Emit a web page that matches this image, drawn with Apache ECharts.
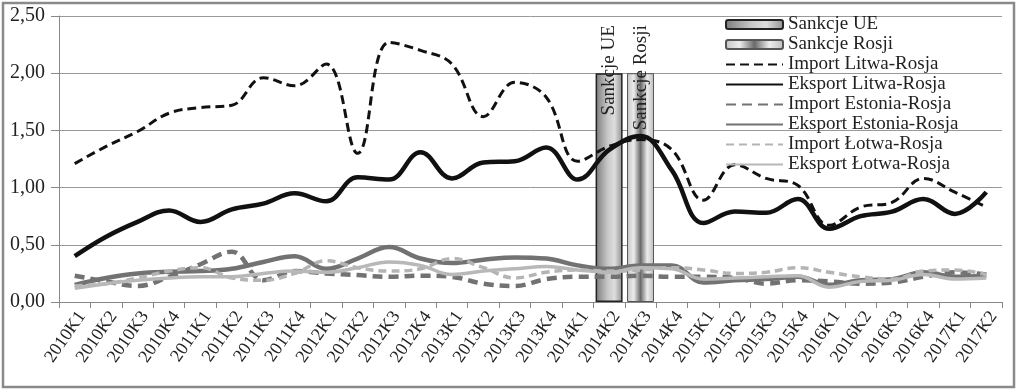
<!DOCTYPE html>
<html>
<head>
<meta charset="utf-8">
<script src="https://cdn.jsdelivr.net/npm/echarts@6/dist/echarts.min.js"></script>
<style>html,body{margin:0;padding:0;background:#fff}#c{width:1024px;height:391px}</style>
</head>
<body>
<div id="c"></div>
<script>
const categories = ['2010K1','2010K2','2010K3','2010K4','2011K1','2011K2','2011K3','2011K4','2012K1','2012K2','2012K3','2012K4','2013K1','2013K2','2013K3','2013K4','2014K1','2014K2','2014K3','2014K4','2015K1','2015K2','2015K3','2015K4','2016K1','2016K2','2016K3','2016K4','2017K1','2017K2'];
const yTicks = [0, 0.5, 1, 1.5, 2, 2.5];
const sankcjeUE =    [null,null,null,null,null,null,null,null,null,null,null,null,null,null,null,null,null,2.0,null,null,null,null,null,null,null,null,null,null,null,null];
const sankcjeRosji = [null,null,null,null,null,null,null,null,null,null,null,null,null,null,null,null,null,null,2.0,null,null,null,null,null,null,null,null,null,null,null];
const importLitwa =  [1.21,1.36,1.49,1.65,1.70,1.72,1.96,1.89,2.08,1.30,2.27,2.20,2.08,1.62,1.92,1.79,1.23,1.36,1.42,1.33,0.89,1.20,1.08,1.02,0.67,0.83,0.87,1.08,0.96,0.83];
const eksportLitwa = [0.40,0.57,0.70,0.80,0.70,0.81,0.86,0.95,0.88,1.09,1.07,1.31,1.08,1.22,1.23,1.35,1.07,1.33,1.45,1.15,0.69,0.79,0.78,0.90,0.64,0.75,0.79,0.90,0.77,0.96];
const importEstonia = [0.23,0.18,0.14,0.22,0.33,0.44,0.19,0.27,0.25,0.235,0.22,0.23,0.22,0.16,0.14,0.20,0.22,0.22,0.23,0.22,0.22,0.21,0.16,0.19,0.18,0.16,0.17,0.22,0.26,0.24];
const eksportEstonia = [0.15,0.21,0.25,0.265,0.27,0.29,0.35,0.40,0.29,0.38,0.48,0.38,0.34,0.37,0.39,0.38,0.32,0.29,0.32,0.32,0.17,0.19,0.20,0.22,0.15,0.19,0.20,0.26,0.22,0.23];
const importLotwa =  [0.14,0.16,0.21,0.27,0.30,0.21,0.19,0.25,0.36,0.30,0.27,0.29,0.38,0.30,0.21,0.26,0.28,0.27,0.28,0.30,0.28,0.25,0.26,0.30,0.26,0.22,0.20,0.27,0.28,0.24];
const eksportLotwa = [0.12,0.16,0.19,0.21,0.22,0.22,0.25,0.27,0.26,0.30,0.35,0.32,0.24,0.27,0.29,0.31,0.28,0.26,0.30,0.29,0.20,0.21,0.22,0.23,0.13,0.18,0.19,0.24,0.20,0.21];

const FONT = '"Liberation Serif", "Times New Roman", serif';
const chart = echarts.init(document.getElementById('c'));
const ueColor = {type: 'linear', x: 0, y: 0, x2: 1, y2: 0, colorStops: [
  {offset: 0, color: '#7a7a7a'}, {offset: 0.45, color: '#c8c8c8'}, {offset: 0.7, color: '#dedede'}, {offset: 1, color: '#8e8e8e'}]};
const rosjiColor = {type: 'linear', x: 0, y: 0, x2: 1, y2: 0, colorStops: [
  {offset: 0, color: '#c4c4c4'}, {offset: 0.25, color: '#ececec'}, {offset: 0.5, color: '#6a6a6a'},
  {offset: 0.75, color: '#ececec'}, {offset: 1, color: '#bdbdbd'}]};

function lineSeries(name, data, color, width, dashed) {
  return {
    name, type: 'line', data, smooth: 0.4, symbol: 'none', showSymbol: false,
    lineStyle: {color, width, type: dashed ? dashed : 'solid'},
    itemStyle: {color}, z: 3
  };
}
function barLabel(name) {
  return {show: true, position: 'top', distance: 48, rotate: 90, align: 'right', verticalAlign: 'middle',
    formatter: name, fontFamily: FONT, fontSize: 19, color: '#222'};
}
const lineNames = ['Import Litwa-Rosja','Eksport Litwa-Rosja','Import Estonia-Rosja','Eksport Estonia-Rosja','Import Łotwa-Rosja','Eksport Łotwa-Rosja'];
chart.setOption({
  animation: false,
  backgroundColor: '#fff',
  textStyle: {fontFamily: FONT},
  graphic: [{type: 'rect', shape: {x: 3, y: 3, width: 1011, height: 384}, style: {fill: 'none', stroke: '#8a8a8a', lineWidth: 2.5}, silent: true, z: -1}],
  grid: {left: 59, right: 22, top: 16, bottom: 89, containLabel: false},
  legend: {
    orient: 'vertical', left: 720, top: 10, itemWidth: 57, itemHeight: 9, itemGap: 1,
    textStyle: {fontFamily: FONT, fontSize: 19, color: '#222', lineHeight: 17},
    data: ['Sankcje UE', 'Sankcje Rosji'].map(n => ({name: n}))
      .concat(lineNames.map(n => ({name: n, itemStyle: {opacity: 0}})))
  },
  xAxis: {
    type: 'category', data: categories, boundaryGap: true,
    axisLine: {lineStyle: {color: '#888', width: 1}},
    axisTick: {show: true, length: 6, lineStyle: {color: '#888'}},
    axisLabel: {rotate: 55, fontFamily: FONT, fontSize: 18, color: '#222', margin: 6, interval: 0, verticalAlign: 'top'}
  },
  yAxis: {
    type: 'value', min: yTicks[0], max: yTicks[yTicks.length - 1], interval: 0.5,
    axisLine: {show: true, lineStyle: {color: '#888'}},
    axisTick: {show: true, length: 8, lineStyle: {color: '#888'}},
    splitLine: {lineStyle: {color: '#999', width: 1}},
    axisLabel: {fontFamily: FONT, fontSize: 20, color: '#222', margin: 14,
      formatter: v => v.toFixed(2).replace('.', ',')}
  },
  series: [
    {name: 'Sankcje UE', type: 'bar', stack: 'sank', data: sankcjeUE, barWidth: 27,
      itemStyle: {color: ueColor, borderColor: '#222', borderWidth: 1.5}, label: barLabel('Sankcje UE'), z: 2},
    {name: 'Sankcje Rosji', type: 'bar', stack: 'sank', data: sankcjeRosji, barWidth: 27,
      itemStyle: {color: rosjiColor, borderColor: '#555', borderWidth: 1}, label: barLabel('Sankcje Rosji'), z: 2},
    lineSeries(lineNames[0], importLitwa, '#111', 3, [9, 5]),
    lineSeries(lineNames[1], eksportLitwa, '#111', 4.5, null),
    lineSeries(lineNames[2], importEstonia, '#727272', 4.5, [10, 6]),
    lineSeries(lineNames[3], eksportEstonia, '#727272', 4.5, null),
    lineSeries(lineNames[4], importLotwa, '#b4b4b4', 3.5, [8, 5]),
    lineSeries(lineNames[5], eksportLotwa, '#b8b8b8', 3.5, null)
  ]
});
</script>
</body>
</html>
